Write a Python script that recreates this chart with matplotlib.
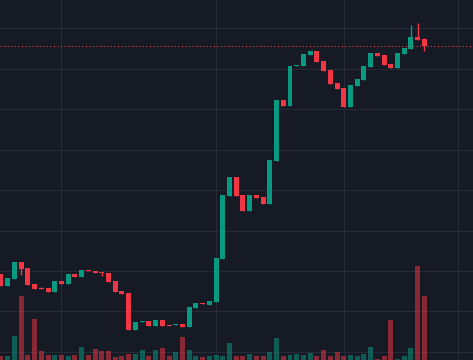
import numpy as np
import matplotlib
matplotlib.use("Agg")
import matplotlib.pyplot as plt

# candle data (price units, 1 unit ~ 1 px)
opens = [86, 74, 81, 98, 92, 76, 72.5, 72, 68, 79,
         76, 86, 83, 90, 89, 88, 87, 79, 69, 67,
         30, 38, 39, 34, 40, 35, 35, 36, 33, 52,
         57, 55, 58, 101, 164, 183, 165, 149, 165, 163,
         156, 199, 260, 254, 294, 294, 305, 309, 299, 290,
         277, 272, 253, 274, 280, 293, 307, 305, 296, 292,
         306, 311, 323, 321]
closes = [74, 82, 98, 91, 75, 71, 71.5, 68, 79, 76,
          86, 83, 90, 89, 87, 87, 78, 68, 66, 30,
          38, 39, 34, 40, 34, 34, 36, 33, 53, 57,
          56, 59, 102, 165, 183, 164, 149, 165, 162, 156,
          200, 260, 254, 294, 295, 306, 309, 298, 289, 276,
          271, 253, 275, 281, 294, 307, 304, 295, 292, 307,
          312, 323, 320, 314]
highs = [86, 82, 98, 98, 92, 76, 73.5, 72, 79, 79,
         86, 86, 90, 90, 89, 88, 87, 79, 69, 67,
         38, 39, 39, 40, 40, 35, 36, 36, 53, 57,
         57, 59, 102, 165, 183, 183, 165, 165, 165, 163,
         200, 260, 260, 294, 295, 306, 309, 309, 299, 290,
         277, 272, 275, 281, 294, 307, 307, 305, 296, 307,
         312, 335, 337, 322]
lows = [74, 74, 81, 85, 75, 71, 71.5, 68, 68, 76,
        76, 83, 83, 89, 87, 84, 78, 68, 66, 30,
        30, 38, 34, 34, 34, 34, 35, 33, 33, 52,
        56, 55, 58, 101, 164, 164, 149, 149, 162, 156,
        156, 199, 254, 254, 294, 294, 305, 298, 289, 276,
        271, 253, 253, 274, 280, 293, 304, 295, 292, 292,
        306, 311, 320, 309]
volumes = [4, 4, 24, 64, 5, 41, 9, 5, 5, 5,
           4, 5, 13, 5, 11, 9, 9, 3, 4, 6,
           6, 10, 4, 10, 12, 4, 8, 23, 10, 4,
           3, 4, 5, 4, 17, 4, 4, 6, 4, 4,
           8, 22, 4, 5, 6, 5, 7, 4, 10, 4,
           8, 4, 5, 4, 6, 13, 1, 4, 40, 1,
           4, 12, 94, 64]

bg = "#161a25"
up = "#089981"
down = "#f23645"
grid = "#262a35"

o = np.array(opens, dtype=float)
c = np.array(closes, dtype=float)
h = np.array(highs, dtype=float)
l = np.array(lows, dtype=float)
v = np.array(volumes, dtype=float)
x = np.arange(len(o))
rising = c >= o
cols = np.where(rising, up, down)

fig = plt.figure(figsize=(4.73, 3.6), dpi=100, facecolor=bg)
ax = fig.add_axes([0, 0, 1, 1])
ax.set_facecolor(bg)

# grid
for gx in [9, 32, 51, 68]:
    ax.axvline(gx, color=grid, lw=0.8, zorder=0)
for gy in np.arange(8.1, 360, 40.45):
    ax.axhline(gy, color=grid, lw=0.8, zorder=0)

# volume bars
ax.bar(x, v, width=0.74, color=cols, alpha=0.52, zorder=1, linewidth=0)

# candles
ax.vlines(x, l, h, colors=cols, lw=1.0, zorder=2)
body = np.maximum(np.abs(c - o), 1)
ax.bar(x, body, bottom=np.minimum(o, c), width=0.74, color=cols, zorder=3, linewidth=0)

# last price line
ax.axhline(c[-1], color=down, lw=0.8, linestyle=(0, (1, 2.2)), zorder=4)

ax.set_xlim(-0.15, 70.23)
ax.set_ylim(0, 360)
ax.axis("off")

fig.savefig("out.png", dpi=100, facecolor=bg)
